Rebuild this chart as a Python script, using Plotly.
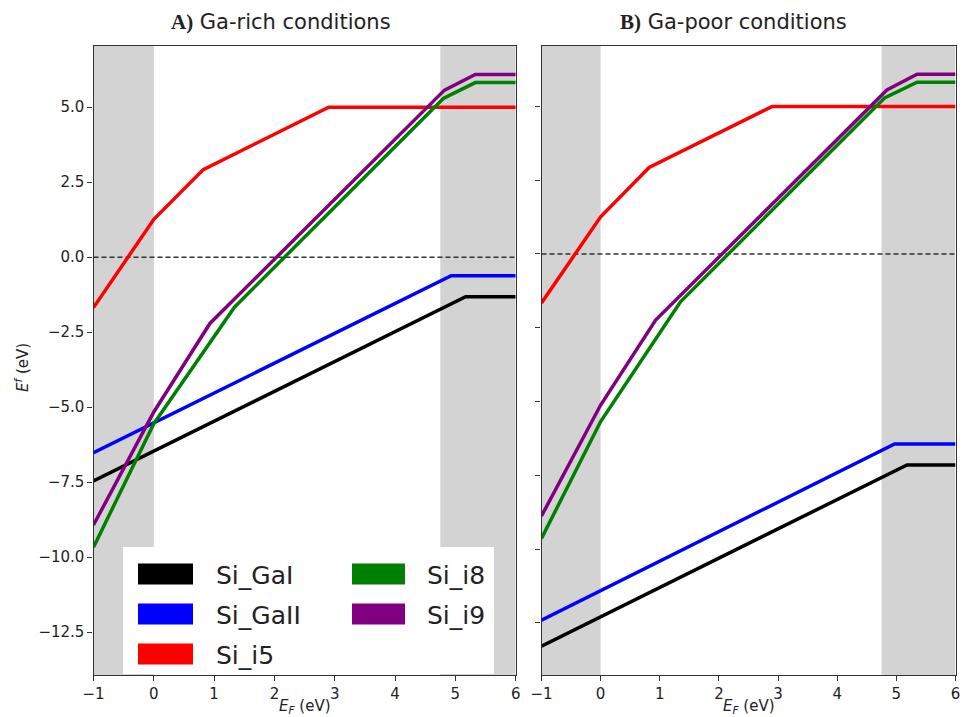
import plotly.graph_objects as go

# ---------------- data ----------------
names = ["Si_GaI", "Si_GaII", "Si_i5", "Si_i8", "Si_i9"]
colors = ["black", "#0000ff", "#ff0000", "#008000", "#800080"]

# Panel A: Ga-rich
a_gai_x = [-1, 5.17, 6]
a_gai_y = [-7.46, -1.32, -1.32]
a_gaii_x = [-1, 4.93, 6]
a_gaii_y = [-6.52, -0.62, -0.62]
a_i5_x = [-1, 0, 0.82, 2.9, 6]
a_i5_y = [-1.68, 1.26, 2.92, 5.0, 5.0]
a_i8_x = [-1, 0, 1.34, 4.80, 5.33, 6]
a_i8_y = [-9.67, -5.55, -1.66, 5.29, 5.82, 5.82]
a_i9_x = [-1, 0, 0.93, 4.82, 5.33, 6]
a_i9_y = [-8.93, -5.16, -2.21, 5.57, 6.09, 6.09]

# Panel B: Ga-poor
b_gai_x = [-1, 5.18, 6]
b_gai_y = [-13.29, -7.15, -7.15]
b_gaii_x = [-1, 4.97, 6]
b_gaii_y = [-12.41, -6.44, -6.44]
b_i5_x = [-1, 0, 0.82, 2.9, 6]
b_i5_y = [-1.66, 1.26, 2.93, 5.0, 5.0]
b_i8_x = [-1, 0, 1.35, 4.80, 5.35, 6]
b_i8_y = [-9.64, -5.68, -1.62, 5.29, 5.82, 5.82]
b_i9_x = [-1, 0, 0.93, 4.84, 5.35, 6]
b_i9_y = [-8.88, -5.12, -2.24, 5.56, 6.09, 6.09]

gray_bands = [(-1, 0), (4.75, 6)]
x_ticks = [-1, 0, 1, 2, 3, 4, 5, 6]
y_ticks = [5.0, 2.5, 0.0, -2.5, -5.0, -7.5, -10.0, -12.5]

panel_a = [(a_gai_x, a_gai_y), (a_gaii_x, a_gaii_y), (a_i5_x, a_i5_y),
           (a_i8_x, a_i8_y), (a_i9_x, a_i9_y)]
panel_b = [(b_gai_x, b_gai_y), (b_gaii_x, b_gaii_y), (b_i5_x, b_i5_y),
           (b_i8_x, b_i8_y), (b_i9_x, b_i9_y)]

# page body has an 8px margin: the figure is offset by it, so positions below
# are given in window pixels and converted
OFF = 8
W, H = 969 - 2 * OFF, 717 - OFF
def px(v):
    return (v - OFF) / W
def py(v):
    return 1 - (v - OFF) / H

fig = go.Figure()

for (x, y), c, n in zip(panel_a, colors, names):
    fig.add_trace(go.Scatter(x=x, y=y, mode="lines", line=dict(color=c, width=3.5),
                             name=n, showlegend=False, xaxis="x", yaxis="y"))
for (x, y), c, n in zip(panel_b, colors, names):
    fig.add_trace(go.Scatter(x=x, y=y, mode="lines", line=dict(color=c, width=3.5),
                             name=n, showlegend=False, xaxis="x2", yaxis="y2"))

shapes = []
for xr, yr in [("x", "y"), ("x2", "y2")]:
    for x0, x1 in gray_bands:
        shapes.append(dict(type="rect", xref=xr, yref=yr + " domain", x0=x0, x1=x1,
                           y0=0, y1=1, fillcolor="#d3d3d3", line=dict(width=0),
                           layer="below"))
    shapes.append(dict(type="line", xref=xr + " domain", yref=yr, x0=0, x1=1, y0=0, y1=0,
                       line=dict(color="#333333", width=1.5, dash="5px,3px"), layer="below"))

# legend (drawn in panel A, bottom-left): box, swatches, labels
legend_rows = [574, 614, 654]
legend_cols = [(138, 193, 214), (352, 405, 425)]
legend_slots = [(0, 0), (0, 1), (0, 2), (1, 0), (1, 1)]  # (col, row) per series
shapes.append(dict(type="rect", xref="paper", yref="paper", x0=px(123), x1=px(494),
                   y0=py(674), y1=py(547), fillcolor="white", line=dict(width=0),
                   layer="below"))
legend_ann = []
for i, (ci, ri) in enumerate(legend_slots):
    sx0, sx1, tx = legend_cols[ci]
    yc = legend_rows[ri]
    shapes.append(dict(type="rect", xref="paper", yref="paper", x0=px(sx0), x1=px(sx1),
                       y0=py(yc + 10.5), y1=py(yc - 10.5), fillcolor=colors[i],
                       line=dict(width=0), layer="below"))
    legend_ann.append(dict(text=names[i], x=px(tx), y=py(yc + 1), xref="paper", yref="paper",
                           xanchor="left", yanchor="middle", showarrow=False,
                           font=dict(family="DejaVu Sans", size=25, color="#222222")))

axis_common = dict(showgrid=False, zeroline=False, showline=True, mirror=True,
                   linecolor="#333333", linewidth=1.3, ticks="outside", ticklen=5,
                   tickcolor="#333333",
                   tickfont=dict(family="DejaVu Sans", size=15, color="#222222"))

fig.update_layout(
    width=W, height=H,
    margin=dict(l=0, r=0, t=0, b=0, autoexpand=False),
    paper_bgcolor="white", plot_bgcolor="white",
    showlegend=False,
    shapes=shapes,
    xaxis=dict(domain=[px(93.5), px(515.7)], range=[-1, 6], tickvals=x_ticks,
               anchor="y", automargin=False, **axis_common),
    yaxis=dict(domain=[py(675), py(46)], range=[-13.93, 7.04], tickvals=y_ticks,
               tickformat=".1f", anchor="x", automargin=False, **axis_common),
    xaxis2=dict(domain=[px(541.5), px(955.5)], range=[-1, 6], tickvals=x_ticks,
                anchor="y2", automargin=False, ticklabeloverflow="allow", **axis_common),
    yaxis2=dict(domain=[py(675), py(46)], range=[-14.27, 7.05], tickvals=y_ticks,
                showticklabels=False, anchor="x2", automargin=False, **axis_common),
    annotations=[
        dict(text="<span style='font-family:Liberation Serif'><b>A)</b></span> Ga-rich conditions",
             x=px(281), y=py(22), xref="paper", yref="paper", showarrow=False,
             xanchor="center", yanchor="middle",
             font=dict(family="DejaVu Sans", size=21, color="#222222")),
        dict(text="<span style='font-family:Liberation Serif'><b>B)</b></span> Ga-poor conditions",
             x=px(733), y=py(22), xref="paper", yref="paper", showarrow=False,
             xanchor="center", yanchor="middle",
             font=dict(family="DejaVu Sans", size=21, color="#222222")),
        dict(text="<i>E</i><sup><i>f</i></sup> (eV)", x=px(22), y=py(368), xref="paper",
             yref="paper", showarrow=False, textangle=-90, xanchor="center", yanchor="middle",
             font=dict(family="DejaVu Sans", size=15, color="#222222")),
        dict(text="<i>E</i><sub><i>F</i></sub> (eV)", x=px(304.6), y=py(706), xref="paper",
             yref="paper", showarrow=False, xanchor="center", yanchor="middle",
             font=dict(family="DejaVu Sans", size=15, color="#222222")),
        dict(text="<i>E</i><sub><i>F</i></sub> (eV)", x=px(749), y=py(706), xref="paper",
             yref="paper", showarrow=False, xanchor="center", yanchor="middle",
             font=dict(family="DejaVu Sans", size=15, color="#222222")),
    ] + legend_ann,
)

fig.write_html("out.html")
